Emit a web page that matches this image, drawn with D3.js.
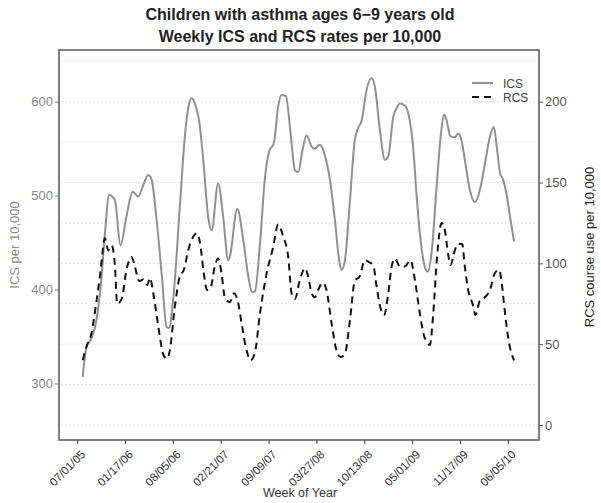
<!DOCTYPE html>
<html>
<head>
<meta charset="utf-8">
<script src="https://cdn.jsdelivr.net/npm/d3@7"></script>
<style>
    body { margin: 0; background: #fff; }
    text { font-family: "Liberation Sans", Arial, sans-serif; }
</style>
</head>
<body>
<svg id="chart" width="601" height="503"></svg>
<script>
// tick labels on the date axis (every 200 days)
const xTickLabels = ["07/01/05", "01/17/06", "08/05/06", "02/21/07", "09/09/07",
    "03/27/08", "10/13/08", "05/01/09", "11/17/09", "06/05/10"];

// ICS rate per 10,000 (days after 07/01/05)
const icsDays = [23, 39, 60, 81, 102, 116, 134, 150, 158, 181, 206, 232, 255, 276, 297, 311,
    332, 353, 374, 384, 401, 429, 450, 464, 478, 492, 510, 527, 547, 562, 589, 610, 631, 638,
    669, 694, 715, 731, 743, 764, 784, 802, 822, 840, 854, 872, 892, 910, 924, 942, 959, 980,
    993, 1014, 1035, 1056, 1077, 1095, 1105, 1119, 1140, 1160, 1174, 1189, 1209, 1230, 1244,
    1265, 1286, 1300, 1321, 1335, 1349, 1369, 1390, 1404, 1418, 1432, 1453, 1464, 1481, 1502,
    1519, 1534, 1544, 1560, 1578, 1592, 1606, 1620, 1641, 1662, 1683, 1704, 1725, 1741, 1755,
    1767, 1780, 1794, 1811, 1826];
const icsValues = [307, 339, 348, 368, 414, 460, 501, 498, 495, 447, 478, 504, 499, 511, 522, 517,
    474, 417, 360, 359, 389, 488, 563, 593, 604, 598, 579, 538, 478, 463, 513, 478, 431, 435,
    486, 453, 414, 397, 398, 449, 517, 547, 556, 595, 607, 606, 566, 527, 525, 549, 564, 552,
    550, 554, 543, 517, 474, 431, 421, 431, 495, 559, 572, 580, 612, 625, 616,
    570, 538, 542, 584, 593, 598, 596, 580, 552, 502, 460, 424, 419, 439, 509,
    563, 586, 580, 563, 562, 566, 559, 538, 506, 493, 506, 534, 563, 573, 549,
    524, 517, 502, 474, 451];

// RCS course use per 10,000
const rcsDays = [23, 39, 60, 81, 95, 116, 130, 144, 158, 167, 186, 206, 227, 241, 259, 276, 293,
    304, 318, 339, 359, 374, 387, 408, 429, 446, 464, 485, 499, 513, 529, 543, 557, 575, 589,
    603, 617, 638, 655, 672, 687, 708, 725, 743, 764, 792, 819, 840, 861, 882, 896, 910, 931,
    952, 965, 980, 993, 1007, 1026, 1042, 1063, 1084, 1101, 1119, 1140, 1160, 1181, 1202, 1216,
    1237, 1251, 1265, 1283, 1300, 1314, 1328, 1349, 1369, 1393, 1411, 1432, 1450, 1474, 1488,
    1504, 1523, 1536, 1550, 1560, 1578, 1592, 1609, 1620, 1634, 1652, 1665, 1683, 1704, 1725,
    1746, 1764, 1774, 1788, 1805, 1826];
const rcsValues = [40, 48.5, 57, 77, 92, 115.5, 108, 111, 98, 75, 78, 96, 104, 98, 89, 90, 86.6,
    91, 81.5, 61, 44, 41, 46, 73, 92, 96, 108, 116.5, 118.6, 113, 94, 83.5, 84.6, 98, 103,
    94, 79, 76, 81.5, 76, 63, 46, 40, 45, 69, 94, 110, 124, 116.5, 104, 81.5, 78, 90,
    97, 92, 81.5, 79, 83.5, 88, 83.5, 63, 46, 42, 44, 65, 89, 92, 102, 101,
    99, 86, 74, 68, 81.5, 98, 103, 98, 98, 102, 90, 69, 55, 49.5, 69,
    104, 125, 121, 106, 99, 108, 112, 112, 98, 83.5, 75, 68, 77, 79, 83.5,
    94, 96, 88, 69, 50.6, 40];

const icsTicks = [300, 400, 500, 600];
const rcsTicks = [0, 50, 100, 150, 200];
const gridValues = [0, 25, 50, 75, 100, 125, 150, 175, 200, 225];

const margin = {left: 59, right: 62, top: 50, bottom: 63};
const W = 601, H = 503;
const parseDate = d3.utcParse("%m/%d/%y");
const start = parseDate(xTickLabels[0]);

const svg = d3.select("#chart");

const x = d3.scaleUtc()
    .domain([d3.utcDay.offset(start, -76), d3.utcDay.offset(start, 1930)])
    .range([margin.left, W - margin.right]);
const yIcs = d3.scaleLinear().domain([239.8, 655]).range([H - margin.bottom, margin.top]);
const yRcs = d3.scaleLinear().domain([-9.3, 232]).range([H - margin.bottom, margin.top]);

const icsData = icsDays.map((d, i) => ({date: d3.utcDay.offset(start, d), v: icsValues[i]}));
const rcsData = rcsDays.map((d, i) => ({date: d3.utcDay.offset(start, d), v: rcsValues[i]}));

// grid
svg.append("g")
    .selectAll("line")
    .data(gridValues)
    .enter().append("line")
    .attr("x1", margin.left + 2).attr("x2", W - margin.right - 2)
    .attr("y1", d => yRcs(d)).attr("y2", d => yRcs(d))
    .attr("stroke", "#e2e2e2")
    .attr("stroke-width", 1)
    .attr("stroke-dasharray", "2,2");

// lines
const lineIcs = d3.line().x(d => x(d.date)).y(d => yIcs(d.v)).curve(d3.curveMonotoneX);
const lineRcs = d3.line().x(d => x(d.date)).y(d => yRcs(d.v)).curve(d3.curveMonotoneX);

svg.append("path")
    .datum(icsData)
    .attr("d", lineIcs)
    .attr("fill", "none")
    .attr("stroke", "#8f8f8f")
    .attr("stroke-width", 2);

svg.append("path")
    .datum(rcsData)
    .attr("d", lineRcs)
    .attr("fill", "none")
    .attr("stroke", "#111")
    .attr("stroke-width", 2)
    .attr("stroke-dasharray", "7,5");

// axes
const axisLeft = svg.append("g")
    .attr("transform", `translate(${margin.left},0)`)
    .call(d3.axisLeft(yIcs).tickValues(icsTicks).tickSize(4).tickPadding(2));
axisLeft.select(".domain").remove();
axisLeft.selectAll("line").attr("stroke", "#777");
axisLeft.selectAll("text").attr("fill", "#8a8a8a").style("font-size", "13px");

const axisRight = svg.append("g")
    .attr("transform", `translate(${W - margin.right},0)`)
    .call(d3.axisRight(yRcs).tickValues(rcsTicks).tickSize(4).tickPadding(2));
axisRight.select(".domain").remove();
axisRight.selectAll("line").attr("stroke", "#555");
axisRight.selectAll("text").attr("fill", "#555").style("font-size", "13px");

const axisBottom = svg.append("g")
    .attr("transform", `translate(0,${H - margin.bottom})`)
    .call(d3.axisBottom(x).tickValues(xTickLabels.map(parseDate))
        .tickFormat(d3.utcFormat("%m/%d/%y")).tickSize(4).tickPadding(2));
axisBottom.select(".domain").remove();
axisBottom.selectAll("line").attr("stroke", "#333");
axisBottom.selectAll("text")
    .attr("fill", "#333")
    .style("font-size", "11.5px")
    .attr("text-anchor", "end")
    .attr("dy", null)
    .attr("transform", "translate(4,11) rotate(-45)");

// panel box
svg.append("rect")
    .attr("x", margin.left).attr("y", margin.top)
    .attr("width", W - margin.left - margin.right)
    .attr("height", H - margin.top - margin.bottom)
    .attr("fill", "none")
    .attr("stroke", "#555")
    .attr("stroke-width", 1.5);

// titles
svg.append("text")
    .attr("x", 300).attr("y", 20)
    .attr("text-anchor", "middle")
    .style("font-size", "16px").style("font-weight", "bold")
    .attr("fill", "#222")
    .text("Children with asthma ages 6\u22129 years old");
svg.append("text")
    .attr("x", 300).attr("y", 42)
    .attr("text-anchor", "middle")
    .style("font-size", "16px").style("font-weight", "bold")
    .attr("fill", "#222")
    .text("Weekly ICS and RCS rates per 10,000");

svg.append("text")
    .attr("transform", "translate(19,245) rotate(-90)")
    .attr("text-anchor", "middle")
    .style("font-size", "13px")
    .attr("fill", "#8a8a8a")
    .text("ICS per 10,000");

svg.append("text")
    .attr("transform", "translate(594,247) rotate(-90)")
    .attr("text-anchor", "middle")
    .style("font-size", "13px")
    .attr("fill", "#222")
    .text("RCS course use per 10,000");

svg.append("text")
    .attr("x", 300).attr("y", 497)
    .attr("text-anchor", "middle")
    .style("font-size", "12.5px")
    .attr("fill", "#333")
    .text("Week of Year");

// legend
const legend = svg.append("g").attr("transform", "translate(472,83)");
legend.append("line")
    .attr("x1", 0).attr("x2", 21).attr("y1", 0).attr("y2", 0)
    .attr("stroke", "#8f8f8f").attr("stroke-width", 2);
legend.append("line")
    .attr("x1", 0).attr("x2", 21).attr("y1", 14).attr("y2", 14)
    .attr("stroke", "#111").attr("stroke-width", 2).attr("stroke-dasharray", "7,5");
legend.append("text").attr("x", 31).attr("y", 4.5)
    .style("font-size", "12px").attr("fill", "#444").text("ICS");
legend.append("text").attr("x", 31).attr("y", 18.5)
    .style("font-size", "12px").attr("fill", "#444").text("RCS");
</script>
</body>
</html>
